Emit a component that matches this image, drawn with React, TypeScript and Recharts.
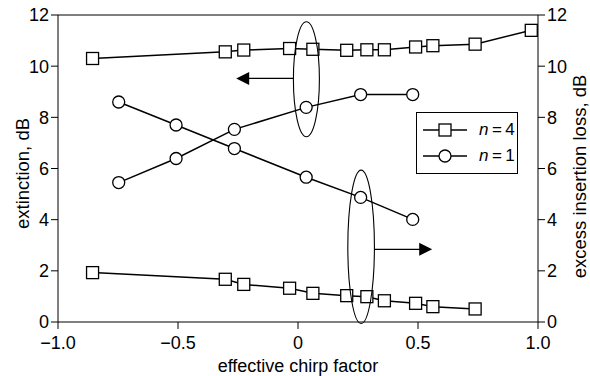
import React from 'react';
import {
  LineChart,
  Line,
  XAxis,
  YAxis,
  ReferenceLine,
  ReferenceDot,
} from 'recharts';

// effective chirp factor for the n = 4 device
const chirpN4 = [-0.856, -0.303, -0.226, -0.035, 0.062, 0.203, 0.287, 0.36, 0.49, 0.562, 0.738, 0.972];
const extinctionN4 = [10.3, 10.56, 10.63, 10.69, 10.66, 10.62, 10.64, 10.64, 10.75, 10.8, 10.86, 11.4];
const chirpN4Loss = [-0.856, -0.303, -0.226, -0.035, 0.062, 0.203, 0.287, 0.36, 0.49, 0.562, 0.738];
const lossN4 = [1.93, 1.67, 1.47, 1.32, 1.12, 1.03, 0.99, 0.83, 0.73, 0.6, 0.51];

// n = 1 device
const chirpN1 = [-0.747, -0.508, -0.265, 0.034, 0.261, 0.478];
const extinctionN1 = [5.45, 6.39, 7.53, 8.39, 8.89, 8.89];
const lossN1 = [8.6, 7.7, 6.78, 5.66, 4.87, 4.01];

const xTicks = [-1, -0.5, 0, 0.5, 1];
const yTicks = [0, 2, 4, 6, 8, 10, 12];
const legendItems = [
  { n: '4', marker: 'square' },
  { n: '1', marker: 'circle' },
];

const toPoints = (xs: number[], ys: number[]) => xs.map((x, i) => ({ x, y: ys[i] }));

const FONT = '"Liberation Sans", Arial, sans-serif';

const fmtX = (v: number) => (v === 0 ? '0' : (v < 0 ? '\u2212' : '') + Math.abs(v).toFixed(1));

const Square = (props: any) => {
  const { cx, cy } = props;
  if (cx == null || cy == null) return null;
  return <rect x={cx - 6} y={cy - 6} width={12} height={12} fill="#fff" stroke="#000" strokeWidth={1.3} />;
};

const Circle = (props: any) => {
  const { cx, cy } = props;
  if (cx == null || cy == null) return null;
  return <circle cx={cx} cy={cy} r={6} fill="#fff" stroke="#000" strokeWidth={1.3} />;
};

const ellipseShape = (rx: number, ry: number) => (props: any) =>
  <ellipse cx={props.cx} cy={props.cy} rx={rx} ry={ry} fill="none" stroke="#000" strokeWidth={1.1} />;

const arrowHead = (dir: 1 | -1) => (props: any) => {
  const { cx, cy } = props;
  const b = cx - dir * 13;
  return <polygon points={`${cx},${cy} ${b},${cy - 6.5} ${b},${cy + 6.5}`} fill="#000" />;
};

// vertical axis title, placed relative to the axis box
const axisTitle = (text: string, dx: (vb: any) => number, dy: number) => (props: any) => {
  const vb = props.viewBox;
  const x = dx(vb);
  const y = vb.y + vb.height / 2 + dy;
  return (
    <text
      x={x}
      y={y}
      transform={`rotate(-90, ${x}, ${y})`}
      textAnchor="middle"
      dominantBaseline="central"
      fontSize={18.5}
      fill="#000"
      fontFamily={FONT}
    >
      {text}
    </text>
  );
};

const LegendBox = () => (
  <div
    style={{
      position: 'absolute',
      left: 416,
      top: 112,
      width: 102,
      height: 62,
      border: '1.3px solid #000',
      background: '#fff',
      fontFamily: FONT,
      fontSize: 17,
      boxSizing: 'border-box',
    }}
  >
    {legendItems.map((e, i) => (
      <div key={i} style={{ display: 'flex', alignItems: 'center', height: 26, marginTop: i === 0 ? 4 : 0 }}>
        <svg width={58} height={20} style={{ marginLeft: 4 }}>
          <line x1={2} y1={10} x2={46} y2={10} stroke="#000" strokeWidth={1.5} />
          {e.marker === 'square' ? (
            <rect x={18} y={4} width={12} height={12} fill="#fff" stroke="#000" strokeWidth={1.3} />
          ) : (
            <circle cx={24} cy={10} r={6} fill="#fff" stroke="#000" strokeWidth={1.3} />
          )}
        </svg>
        <span>
          <i>n</i>{'\u2009'}={'\u2009'}{e.n}
        </span>
      </div>
    ))}
  </div>
);

export default function App() {
  return (
    <div style={{ position: 'absolute', left: 0, top: 0, width: 590, height: 376, background: '#fff' }}>
      <LineChart
        width={590}
        height={376}
        margin={{ top: 0, right: 0, bottom: 0, left: 0 }}
        style={{ fontFamily: FONT }}
      >
        <XAxis
          xAxisId="bottom"
          dataKey="x"
          type="number"
          domain={[-1, 1]}
          ticks={xTicks}
          tickFormatter={fmtX}
          height={54}
          tickSize={7}
          tickMargin={7}
          stroke="#000"
          tick={{ fill: '#000', fontSize: 18 }}
          label={{ value: 'effective chirp factor', position: 'insideBottom', offset: 4, fill: '#000', fontSize: 18 }}
        />
        <XAxis
          xAxisId="top"
          orientation="top"
          dataKey="x"
          type="number"
          domain={[-1, 1]}
          ticks={xTicks}
          tickFormatter={() => ''}
          height={15}
          tickSize={7}
          stroke="#000"
        />
        <YAxis
          yAxisId="left"
          domain={[0, 12]}
          ticks={yTicks}
          width={58}
          tickSize={7}
          tickMargin={2}
          stroke="#000"
          tick={{ fill: '#000', fontSize: 18 }}
          label={{ content: axisTitle('extinction, dB', (vb) => vb.x + 22, 5) }}
        />
        <YAxis
          yAxisId="right"
          orientation="right"
          domain={[0, 12]}
          ticks={yTicks}
          width={52}
          tickSize={7}
          tickMargin={2}
          stroke="#000"
          tick={{ fill: '#000', fontSize: 18 }}
          label={{ content: axisTitle('excess insertion loss, dB', (vb) => vb.x + vb.width - 10.5, 8) }}
        />

        <Line
          xAxisId="bottom"
          yAxisId="left"
          data={toPoints(chirpN4, extinctionN4)}
          dataKey="y"
          name="n=4"
          stroke="#000"
          strokeWidth={1.5}
          dot={<Square />}
          isAnimationActive={false}
        />
        <Line
          xAxisId="bottom"
          yAxisId="left"
          data={toPoints(chirpN1, extinctionN1)}
          dataKey="y"
          name="n=1"
          stroke="#000"
          strokeWidth={1.5}
          dot={<Circle />}
          isAnimationActive={false}
        />
        <Line
          xAxisId="bottom"
          yAxisId="right"
          data={toPoints(chirpN4Loss, lossN4)}
          dataKey="y"
          name="loss n=4"
          stroke="#000"
          strokeWidth={1.5}
          dot={<Square />}
          isAnimationActive={false}
        />
        <Line
          xAxisId="bottom"
          yAxisId="right"
          data={toPoints(chirpN1, lossN1)}
          dataKey="y"
          name="loss n=1"
          stroke="#000"
          strokeWidth={1.5}
          dot={<Circle />}
          isAnimationActive={false}
        />

        {/* annotation: extinction curves belong to left axis */}
        <ReferenceDot xAxisId="bottom" yAxisId="left" x={0.035} y={9.49} shape={ellipseShape(13, 57.5)} />
        <ReferenceLine
          xAxisId="bottom"
          yAxisId="left"
          segment={[{ x: -0.019, y: 9.52 }, { x: -0.21, y: 9.52 }]}
          stroke="#000"
          strokeWidth={1.2}
        />
        <ReferenceDot xAxisId="bottom" yAxisId="left" x={-0.2575} y={9.52} shape={arrowHead(-1)} />

        {/* annotation: loss curves belong to right axis */}
        <ReferenceDot xAxisId="bottom" yAxisId="right" x={0.263} y={2.94} shape={ellipseShape(13.3, 76.7)} />
        <ReferenceLine
          xAxisId="bottom"
          yAxisId="right"
          segment={[{ x: 0.319, y: 2.84 }, { x: 0.51, y: 2.84 }]}
          stroke="#000"
          strokeWidth={1.2}
        />
        <ReferenceDot xAxisId="bottom" yAxisId="right" x={0.559} y={2.84} shape={arrowHead(1)} />
      </LineChart>
      <LegendBox />
    </div>
  );
}
